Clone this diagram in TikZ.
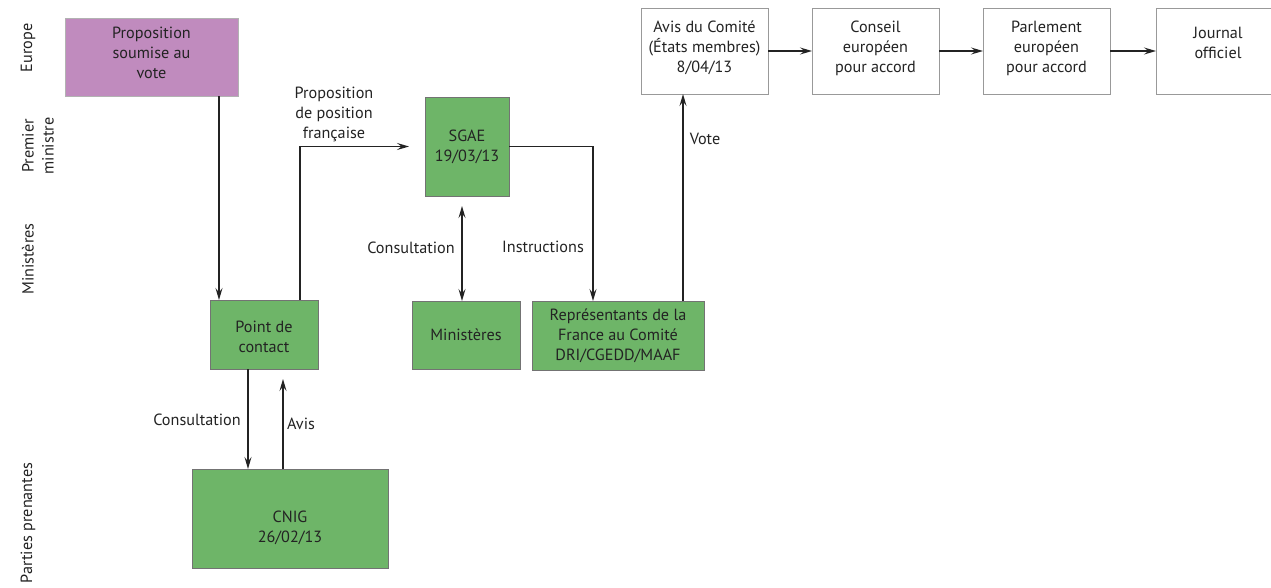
\documentclass[tikz,border=0pt]{standalone}
\usepackage{fontspec}
\setmainfont{PT Sans}
\usetikzlibrary{arrows.meta}
\definecolor{gfill}{RGB}{110,181,104}
\definecolor{pfill}{RGB}{192,139,190}
\definecolor{ink}{RGB}{35,35,35}
\begin{document}
\begin{tikzpicture}[x=1pt,y=-1pt,font=\fontsize{16.2}{20}\selectfont,
  box/.style={inner sep=0pt, outer sep=0pt, align=center, text=ink, line width=0.8pt},
  gbox/.style={box, fill=gfill, draw=black!55},
  pbox/.style={box, fill=pfill, draw=black!30},
  wbox/.style={box, fill=white, draw=black!40, minimum width=127pt, minimum height=86pt},
  tip/.style={Stealth[open,length=12pt,width=7pt,inset=4.5pt]},
  arr/.style={draw=ink, line width=1.3pt, -{Stealth[open,length=12pt,width=7pt,inset=4.5pt]}},
  darr/.style={draw=ink, line width=1.3pt, {Stealth[open,length=12pt,width=7pt,inset=4.5pt]}-{Stealth[open,length=12pt,width=7pt,inset=4.5pt]}},
  lab/.style={text=ink, align=center, inner sep=0pt}]
\clip (0,0) rectangle (1271,587);
\fill[white] (0,0) rectangle (1271,587);
% left lane labels
\node[lab, rotate=90] (lEurope) at (28,48) {Europe};
\node[lab, rotate=90] (lPM) at (38,146) {Premier\\ministre};
\node[lab, rotate=90] (lMin) at (28,259) {Ministères};
\node[lab, rotate=90] (lPP) at (28,523) {Parties prenantes};
% boxes
\node[pbox, minimum width=173pt, minimum height=78pt] (prop) at (151.5,57) {};
\node[lab] (propt) at (151.5,53) {Proposition\\soumise au\\vote};
\node[gbox, minimum width=84pt, minimum height=99pt] (sgae) at (467,146.5) {SGAE\\19/03/13};
\node[gbox, minimum width=108pt, minimum height=69pt] (pdc) at (264,334.5) {};
\node[lab] (pdct) at (264,337) {Point de\\contact};
\node[gbox, minimum width=108pt, minimum height=68pt] (min) at (466,335) {Ministères};
\node[gbox, minimum width=172pt, minimum height=69pt] (rep) at (618,335.5) {Représentants de la\\France au Comité\\DRI/CGEDD/MAAF};
\node[gbox, minimum width=196pt, minimum height=99pt] (cnig) at (290,518.5) {};
\node[lab] (cnigt) at (290,528) {CNIG\\26/02/13};
\node[wbox] (avis) at (704.5,51) {};
\node[lab] (avist) at (704.5,48) {Avis du Comité\\(États membres)\\8/04/13};
\node[wbox] (cons) at (875.5,51) {};
\node[lab] (const) at (875.5,48) {Conseil\\européen\\pour accord};
\node[wbox] (parl) at (1046.5,51) {};
\node[lab] (parlt) at (1046.5,48) {Parlement\\européen\\pour accord};
\node[wbox] (jo) at (1219.5,51) {};
\node[lab] (jot) at (1218,43) {Journal\\officiel};
% connectors
\draw[arr] ([xshift=9pt]pdc.north west |- prop.south) -- ([xshift=9pt]pdc.north west);
\draw[arr] ([xshift=-18pt]pdc.north east) |- ([xshift=-16pt]sgae.west);
\node[lab] (lprop) at (334,114) {Proposition\\de position\\française};
\draw[darr, shorten <=10pt] ([xshift=-5pt]sgae.south) -- ([xshift=-5pt]sgae.south |- min.north);
\node[lab] (lcons1) at (411,248) {Consultation};
\draw[arr] (sgae.east) -| ([xshift=-25pt]rep.north);
\node[lab] (linst) at (543,247) {Instructions};
\draw[arr] ([xshift=65pt]rep.north) -- ([xshift=65pt]rep.north |- avis.south);
\node[lab] (lvote) at (705,139) {Vote};
\draw[arr] ([xshift=38pt]pdc.south west) -- ([xshift=38pt]pdc.south west |- cnig.north);
\node[lab] (lcons2) at (197,420) {Consultation};
\draw[arr, shorten >=10pt] ([xshift=73pt]pdc.south west |- cnig.north) -- ([xshift=73pt]pdc.south west);
\node[lab] (lavis) at (301,424) {Avis};
\draw[arr] (avis.east) -- (cons.west);
\draw[arr] (cons.east) -- (parl.west);
\draw[arr] (parl.east) -- (jo.west);
\end{tikzpicture}
\end{document}
